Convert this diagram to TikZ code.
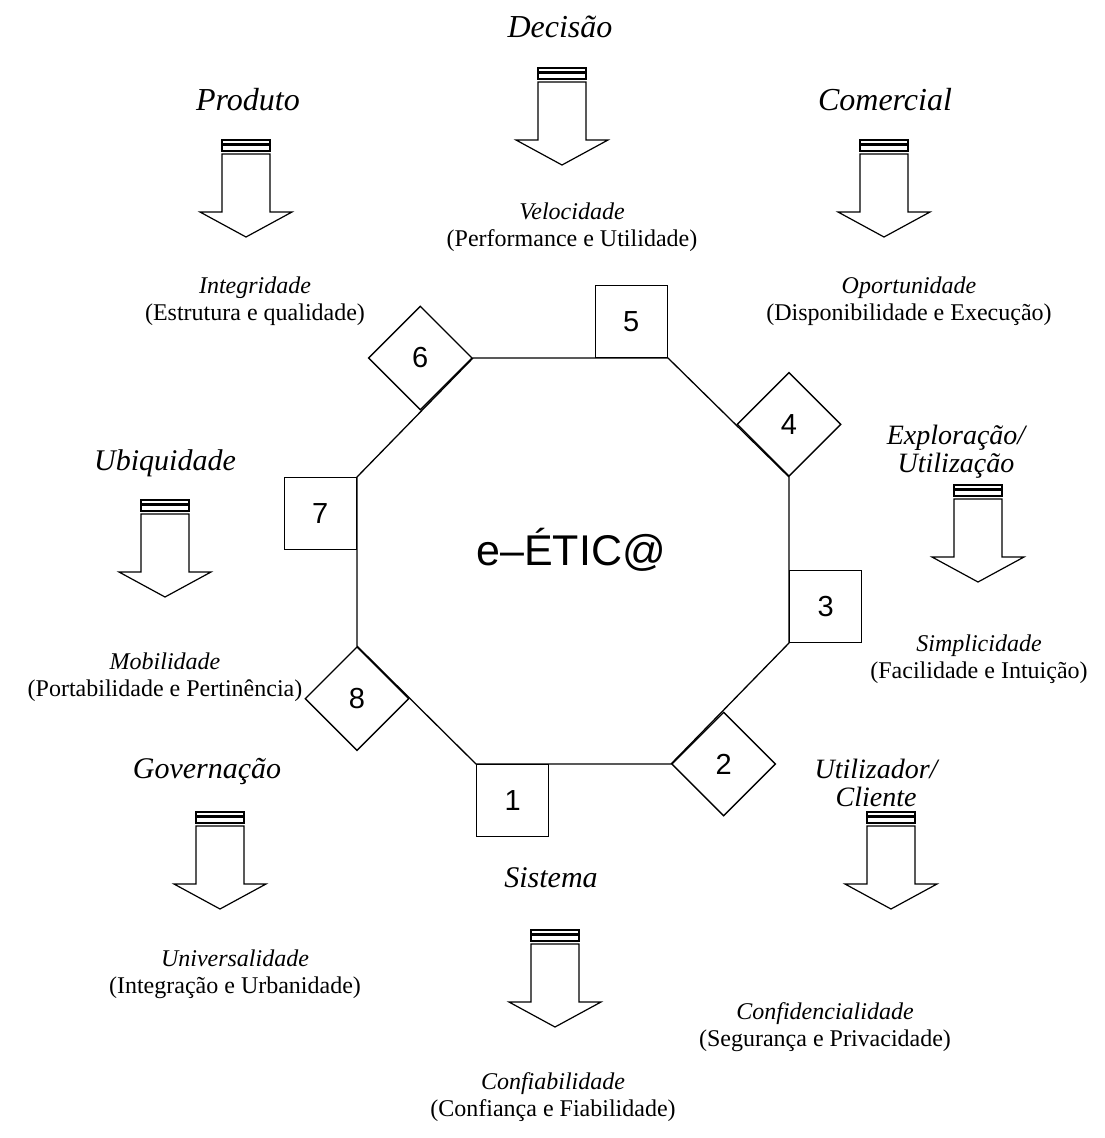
\documentclass[tikz,border=0pt]{standalone}
\usepackage{fontspec}
\setmainfont{Liberation Serif}
\newfontfamily\arialfont{Liberation Sans}
\usetikzlibrary{positioning}
\usetikzlibrary{shapes.geometric}

\tikzset{
  edge/.style={line width=1.3pt},
  sqbox/.style={draw, line width=1.4pt, fill=white, minimum size=72pt, inner sep=0pt,
    font=\arialfont\fontsize{29}{29}\selectfont},
  dmbox/.style={draw, diamond, aspect=1, line width=1.4pt, fill=white, minimum size=104pt,
    inner sep=0pt, font=\arialfont\fontsize{29}{29}\selectfont},
  title/.style={font=\fontsize{30}{30}\selectfont\itshape, align=center},
  bigtitle/.style={title, font=\fontsize{32}{32}\selectfont\itshape},
  twotitle/.style={title, font=\fontsize{28}{28}\selectfont\itshape},
  gain/.style={font=\fontsize{24}{27}\selectfont, align=center},
  arrowline/.style={line width=1.2pt, line join=miter},
  stripedown/.pic={
    \draw[arrowline] (-24,0) rectangle (24,4);
    \draw[arrowline] (-24,5.5) rectangle (24,11);
    \draw[arrowline] (-24,14) -- (-24,72) -- (-46,72) -- (0,97) -- (46,72) -- (24,72) -- (24,14) -- cycle;
  }
}

\begin{document}
\begin{tikzpicture}[x=1pt, y=-1pt]
  \useasboundingbox (0,0) rectangle (1105,1138);

  % octagon corners
  \coordinate (v1) at (473,358);
  \coordinate (v2) at (668,358);
  \coordinate (v3) at (789,477);
  \coordinate (v4) at (789,643);
  \coordinate (v5) at (671,764);
  \coordinate (v6) at (476,764);
  \coordinate (v7) at (357,646);
  \coordinate (v8) at (357,477);
  \draw[edge] (v1) -- (v2) -- (v3) -- (v4) -- (v5) -- (v6) -- (v7) -- (v8) -- cycle;

  \node (core) [font=\arialfont\fontsize{43}{43}\selectfont] at (571,550) {e–ÉTIC@};

  % numbered boxes on the corners
  \node (b1) [sqbox, anchor=north west] at (v6) {1};
  \node (b2) [dmbox, anchor=west] at (v5) {2};
  \node (b3) [sqbox, anchor=south west] at (v4) {3};
  \node (b4) [dmbox, anchor=south] at (v3) {4};
  \node (b5) [sqbox, anchor=south east] at (v2) {5};
  \node (b6) [dmbox, anchor=east] at (v1) {6};
  \node (b7) [sqbox, anchor=north east] at (v8) {7};
  \node (b8) [dmbox, anchor=north] at (v7) {8};

  % perspectives
  \node (t5) [bigtitle] at (560,27) {Decisão};
  \pic at (562,68) {stripedown};
  \node (g5) [gain] at (572,227) {\textit{Velocidade}\\(Performance e Utilidade)};

  \node (t6) [bigtitle] at (248,100) {Produto};
  \pic at (246,140) {stripedown};
  \node (g6) [gain] at (255,301) {\textit{Integridade}\\(Estrutura e qualidade)};

  \node (t4) [bigtitle] at (885,100) {Comercial};
  \pic at (884,140) {stripedown};
  \node (g4) [gain] at (909,301) {\textit{Oportunidade}\\(Disponibilidade e Execução)};

  \node (t3) [twotitle] at (956,452) {Exploração/\\Utilização};
  \pic at (978,485) {stripedown};
  \node (g3) [gain] at (979,659) {\textit{Simplicidade}\\(Facilidade e Intuição)};

  \node (t7) [title] at (165,463) {Ubiquidade};
  \pic at (165,500) {stripedown};
  \node (g7) [gain] at (165,677) {\textit{Mobilidade}\\(Portabilidade e Pertinência)};

  \node (t8) [title] at (207,772) {Governação};
  \pic at (220,812) {stripedown};
  \node (g8) [gain] at (235,974) {\textit{Universalidade}\\(Integração e Urbanidade)};

  \node (t2) [twotitle] at (876,783) {Utilizador/\\Cliente};
  \pic at (891,812) {stripedown};
  \node (g2) [gain] at (825,1027) {\textit{Confidencialidade}\\(Segurança e Privacidade)};

  \node (t1) [title] at (551,878) {Sistema};
  \pic at (555,930) {stripedown};
  \node (g1) [gain] at (553,1097) {\textit{Confiabilidade}\\(Confiança e Fiabilidade)};
\end{tikzpicture}
\end{document}
